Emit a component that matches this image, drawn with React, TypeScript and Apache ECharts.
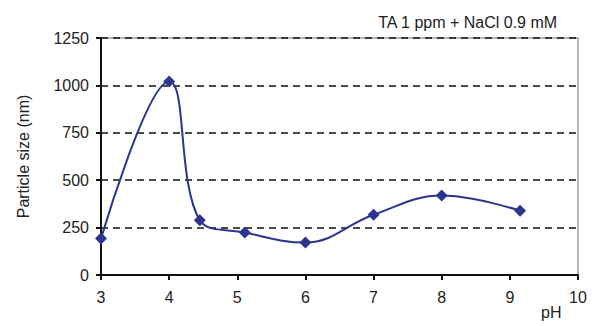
import React, { useEffect, useRef } from "react";
import * as echarts from "echarts";

const titleText = "TA 1 ppm + NaCl 0.9 mM";
const yAxisTitle = "Particle size (nm)";
const xAxisTitle = "pH";
const phValues = [3, 4, 4.45, 5.11, 6, 7, 8, 9.15];
const sizeValues = [192, 1020, 289, 224, 171, 318, 419, 339];

export default function App() {
  const ref = useRef<HTMLDivElement>(null);
  useEffect(() => {
    document.body.style.margin = "0";
    if (!ref.current) return;
    const chart = echarts.init(ref.current, undefined, { renderer: "svg" });
    const font = "Liberation Sans, Arial, sans-serif";
    chart.setOption({
      animation: false,
      backgroundColor: "#ffffff",
      grid: {
        left: 101,
        right: 20,
        top: 38,
        bottom: 51,
        show: true,
        borderColor: "#a0a0a0",
        borderWidth: 1.5,
      },
      title: {
        text: titleText,
        right: 35,
        top: 9,
        textStyle: { fontFamily: font, fontSize: 16, fontWeight: "normal", color: "#222" },
      },
      xAxis: {
        type: "value",
        min: 3,
        max: 10,
        interval: 1,
        axisLine: { show: true, lineStyle: { color: "#111", width: 2 } },
        axisTick: { show: true, length: 5, lineStyle: { color: "#111", width: 2 } },
        axisLabel: { margin: 14, fontFamily: font, fontSize: 16, color: "#222" },
        splitLine: { show: false },
      },
      yAxis: {
        type: "value",
        min: 0,
        max: 1250,
        interval: 250,
        name: yAxisTitle,
        nameLocation: "middle",
        nameGap: 70,
        nameRotate: 90,
        nameTextStyle: { fontFamily: font, fontSize: 16, color: "#222" },
        axisLine: { show: true, lineStyle: { color: "#111", width: 2 } },
        axisTick: { show: true, length: 5, lineStyle: { color: "#111", width: 2 } },
        axisLabel: {
          margin: 12,
          fontFamily: font,
          fontSize: 16,
          color: "#222",
          formatter: (v: number) => String(v),
        },
        splitLine: { show: true, lineStyle: { color: "#111", width: 1.6, type: [7, 5] } },
      },
      graphic: [
        {
          type: "text",
          left: 541,
          top: 304,
          style: { text: xAxisTitle, fontFamily: font, fontSize: 16, fill: "#222" },
        },
      ],
      series: [
        {
          type: "line",
          data: phValues.map((x, i) => [x, sizeValues[i]]),
          smooth: 0.4,
          symbol: "diamond",
          symbolSize: 12,
          lineStyle: { color: "#2b3590", width: 2 },
          itemStyle: { color: "#2b3590" },
        },
      ],
    });
    return () => chart.dispose();
  }, []);
  return <div ref={ref} style={{ width: 598, height: 326 }} />;
}
